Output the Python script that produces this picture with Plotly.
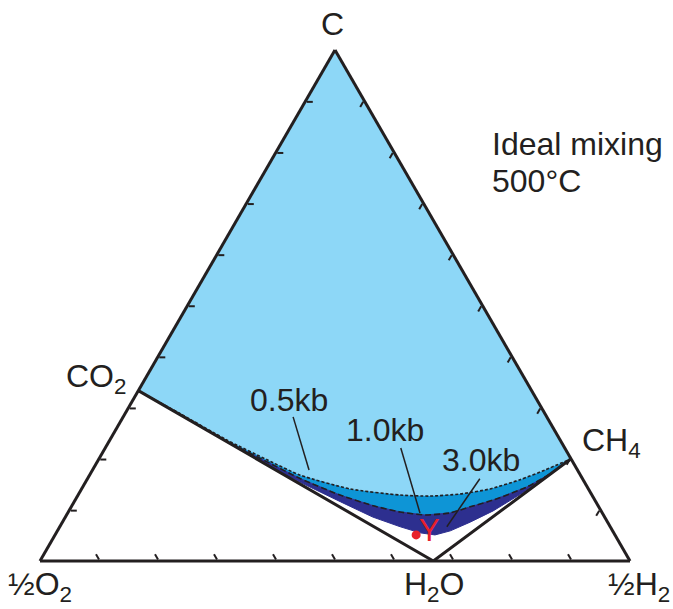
import plotly.graph_objects as go

# Compositions as fractions (C, O, H) -- ternary: a = C (top), b = O (left), c = H (right)
corner_labels = ["C", "½O<sub>2</sub>", "½H<sub>2</sub>"]
species = ["CO<sub>2</sub>", "H<sub>2</sub>O", "CH<sub>4</sub>"]
CO2 = (1/3, 2/3, 0.0)
H2O = (0.0, 1/3, 2/3)
CH4 = (0.2, 0.0, 0.8)

# 0.5 kb graphite-saturation curve (C, O, H)
kb05_C = [0.3333, 0.288, 0.237, 0.198, 0.168, 0.141, 0.129, 0.127, 0.131, 0.141, 0.159, 0.178, 0.2]
kb05_O = [0.6667, 0.618, 0.565, 0.516, 0.475, 0.404, 0.325, 0.276, 0.223, 0.167, 0.107, 0.055, 0.0]
kb05_H = [0.0, 0.094, 0.198, 0.286, 0.357, 0.455, 0.546, 0.597, 0.646, 0.692, 0.734, 0.767, 0.8]

# 1.0 kb curve
kb10_C = [0.3333, 0.286, 0.234, 0.194, 0.161, 0.129, 0.108, 0.096, 0.090, 0.094, 0.106, 0.119, 0.145, 0.170, 0.2]
kb10_O = [0.6667, 0.619, 0.566, 0.518, 0.478, 0.427, 0.381, 0.342, 0.302, 0.258, 0.218, 0.173, 0.102, 0.051, 0.0]
kb10_H = [0.0, 0.095, 0.200, 0.288, 0.361, 0.444, 0.511, 0.562, 0.608, 0.648, 0.676, 0.708, 0.753, 0.779, 0.8]

# 3.0 kb curve
kb30_C = [0.3333, 0.233, 0.189, 0.154, 0.116, 0.086, 0.067, 0.055, 0.051, 0.059, 0.076, 0.098, 0.134, 0.165, 0.2]
kb30_O = [0.6667, 0.566, 0.521, 0.482, 0.433, 0.393, 0.356, 0.328, 0.305, 0.275, 0.233, 0.183, 0.114, 0.060, 0.0]
kb30_H = [0.0, 0.201, 0.290, 0.364, 0.451, 0.521, 0.577, 0.617, 0.644, 0.666, 0.691, 0.719, 0.752, 0.775, 0.8]

# leader lines for curve labels: (start, end) compositions (C, O, H)
leader_05 = [(0.282, 0.430, 0.288), (0.178, 0.455, 0.367)]
leader_10 = [(0.221, 0.278, 0.501), (0.094, 0.309, 0.597)]
leader_30 = [(0.161, 0.174, 0.665), (0.067, 0.277, 0.656)]

# red point
point_C, point_O, point_H = [0.051], [0.337], [0.612]

curve_labels = ["0.5kb", "1.0kb", "3.0kb"]
title_lines = ["Ideal mixing", "500°C"]

LIGHT = "#8dd7f7"
MID = "#0e95d6"
DARK = "#2d2f8f"
INK = "#231f20"
FONT = "Liberation Sans, Arial, sans-serif"

fig = go.Figure()

# light blue graphite field: C -> CO2 -> 0.5kb curve -> CH4 -> C
fig.add_trace(go.Scatterternary(
    a=[1.0] + kb05_C + [1.0], b=[0.0] + kb05_O + [0.0], c=[0.0] + kb05_H + [0.0],
    mode="lines", fill="toself", fillcolor=LIGHT, line=dict(width=0, color=LIGHT),
    hoverinfo="skip", showlegend=False))

# medium band between 0.5 and 1.0 kb
fig.add_trace(go.Scatterternary(
    a=kb05_C + kb10_C[::-1], b=kb05_O + kb10_O[::-1], c=kb05_H + kb10_H[::-1],
    mode="lines", fill="toself", fillcolor=MID, line=dict(width=0, color=MID),
    hoverinfo="skip", showlegend=False))

# dark band between 1.0 and 3.0 kb
fig.add_trace(go.Scatterternary(
    a=kb10_C + kb30_C[::-1], b=kb10_O + kb30_O[::-1], c=kb10_H + kb30_H[::-1],
    mode="lines", fill="toself", fillcolor=DARK, line=dict(width=1, color=DARK),
    hoverinfo="skip", showlegend=False))

# dashed curves
fig.add_trace(go.Scatterternary(
    a=kb05_C, b=kb05_O, c=kb05_H, mode="lines",
    line=dict(color=INK, width=1.6, dash="3px,2px", shape="spline", smoothing=0.6),
    hoverinfo="skip", showlegend=False))
fig.add_trace(go.Scatterternary(
    a=kb10_C, b=kb10_O, c=kb10_H, mode="lines",
    line=dict(color=INK, width=1.6, dash="6px,3px", shape="spline", smoothing=0.6),
    hoverinfo="skip", showlegend=False))

# CO2 - H2O - CH4 join
fig.add_trace(go.Scatterternary(
    a=[CO2[0], H2O[0], CH4[0]], b=[CO2[1], H2O[1], CH4[1]], c=[CO2[2], H2O[2], CH4[2]],
    mode="lines", line=dict(color=INK, width=3), hoverinfo="skip", showlegend=False))

# leader lines
for ld in (leader_05, leader_10, leader_30):
    fig.add_trace(go.Scatterternary(
        a=[p[0] for p in ld], b=[p[1] for p in ld], c=[p[2] for p in ld],
        mode="lines", line=dict(color=INK, width=1.5), hoverinfo="skip", showlegend=False))

# red point
fig.add_trace(go.Scatterternary(
    a=point_C, b=point_O, c=point_H, mode="markers",
    marker=dict(color="#e8202a", size=9, line=dict(width=0)),
    hoverinfo="skip", showlegend=False))

axis_common = dict(
    title=dict(text=""), showticklabels=False, showgrid=False,
    ticks="inside", ticklen=6, tickwidth=1.5, tickcolor=INK,
    linecolor=INK, linewidth=3, dtick=0.1, tick0=0, min=0)

fig.update_layout(
    width=673, height=609,
    margin=dict(l=40, r=43, t=50, b=48, pad=0),
    paper_bgcolor="white",
    font=dict(family=FONT, color=INK, size=32),
    ternary=dict(
        sum=1, bgcolor="white",
        domain=dict(x=[0, 1], y=[0, 1]),
        aaxis=axis_common, baxis=axis_common, caxis=axis_common),
    showlegend=False,
)

def ann(text, x, y, xanchor="center", yanchor="middle", size=32, color=INK):
    fig.add_annotation(text=text, x=x, y=y, xref="paper", yref="paper",
                       xanchor=xanchor, yanchor=yanchor, showarrow=False,
                       font=dict(family=FONT, size=size, color=color))

ann(corner_labels[0], 0.4966, 1.051)
ann(corner_labels[1], 0.0, -0.050)
ann(corner_labels[2], 1.015, -0.050)
ann(species[0], 0.149, 0.357, xanchor="right")
ann(species[1], 0.668, -0.050)
ann(species[2], 0.915, 0.232, xanchor="left")
ann(title_lines[0], 0.763, 0.816, xanchor="left")
ann(title_lines[1], 0.763, 0.744, xanchor="left")
ann(curve_labels[0], 0.422, 0.315)
ann(curve_labels[1], 0.585, 0.256)
ann(curve_labels[2], 0.747, 0.198)
ann("Y", 0.660, 0.060, size=31, color="#e8202a")

fig.write_html("out.html", config={"displayModeBar": False},
               post_script="document.body.style.margin='0px';")
